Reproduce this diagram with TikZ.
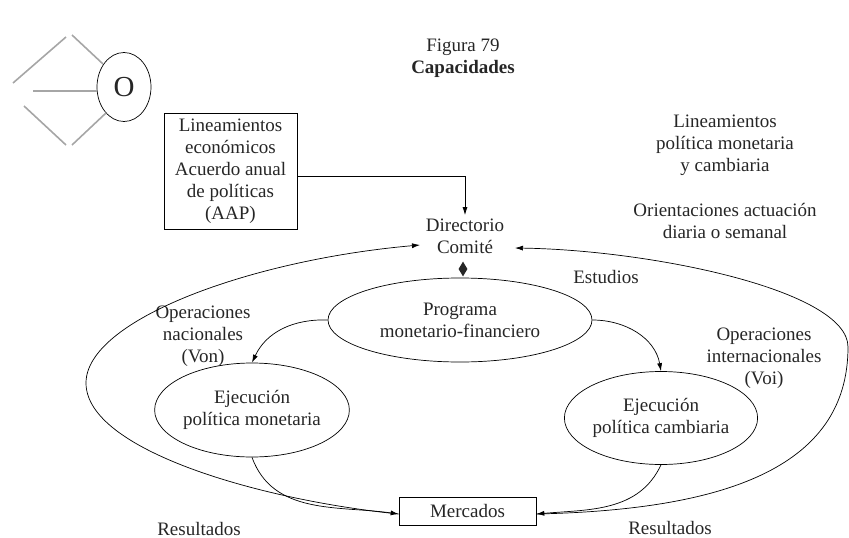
\documentclass[tikz,border=0pt]{standalone}
\usepackage{fontspec}
\setmainfont{Liberation Serif}
\usetikzlibrary{shapes.geometric,arrows.meta,calc}
\begin{document}
\begin{tikzpicture}[x=1pt,y=-1pt,
  every node/.style={font=\fontsize{19}{22}\selectfont, text=black!85},
  ell/.style={ellipse, draw, line width=0.7pt, inner sep=0pt, align=center},
  lbl/.style={align=center},
  arr/.style={line width=0.7pt, -{Latex[length=8pt,width=5pt]}},
  deco/.style={draw=black!35, line width=1.6pt}]
\useasboundingbox (0,0) rectangle (849,538);
% title
\node[lbl] (t1) at (463,47) {Figura 79};
\node[lbl, font=\fontsize{19}{22}\selectfont\bfseries] (t2) at (463,69) {Capacidades};
% decorative O
\node[ellipse, draw, line width=0.7pt, minimum width=54pt, minimum height=69pt, inner sep=0pt, font=\fontsize{29}{30}\selectfont] (o) at (124,87) {O};
\coordinate (g1a) at (13,83);  \coordinate (g1b) at (66,37);
\coordinate (g2a) at (72,35);  \coordinate (g2b) at (103,64);
\coordinate (g3a) at (33,91);
\coordinate (g4a) at (24,106); \coordinate (g4b) at (66,145);
\coordinate (g5a) at (72,145); \coordinate (g5b) at (106,113);
\draw[deco] (g1a) -- (g1b);
\draw[deco] (g2a) -- (g2b);
\draw[deco] (g3a) -- (g3a -| o.west);
\draw[deco] (g4a) -- (g4b);
\draw[deco] (g5a) -- (g5b);
% box
\node[draw, line width=0.7pt, minimum width=133pt, minimum height=116pt, align=center, inner sep=0pt] (box) at (230.5,171)
  {Lineamientos\\económicos\\Acuerdo anual\\de políticas\\(AAP)};
% Directorio
\node[lbl] (dir) at (465,236) {Directorio\\Comité};
\draw[arr] ($(box.east)+(0,5)$) -| (dir.north);
\node[diamond, fill=black!85, minimum width=9pt, minimum height=15pt, inner sep=0pt] (dia) at (463,269) {};
% right texts
\node[lbl] (lin) at (725,145) {Lineamientos\\política monetaria\\y cambiaria};
\node[lbl] (ori) at (725,221) {Orientaciones actuación\\diaria o semanal};
\node[lbl] (est) at (606,277) {Estudios};
\node[lbl] (voi) at (764,358) {Operaciones\\internacionales\\(Voi)};
\node[lbl] (von) at (203,336) {Operaciones\\nacionales\\(Von)};
\node[lbl] (res1) at (199,529) {Resultados};
\node[lbl] (res2) at (670,528) {Resultados};
% ellipses
\node[ell, minimum width=264pt, minimum height=84pt] (prog) at (460,320) {Programa\\monetario-financiero};
\node[ell, minimum width=190pt, minimum height=94pt] (mon) at (252,410) {Ejecución\\política monetaria};
\node[ell, minimum width=191pt, minimum height=93pt] (camb) at (661,418) {Ejecución\\política cambiaria};
% Mercados
\node[draw, line width=0.7pt, minimum width=137pt, minimum height=28pt, inner sep=0pt] (merc) at (467.5,511) {Mercados};
% connectors
\draw[arr] (prog.west) to[out=178, in=65] (mon.north);
\draw[arr] (prog.east) to[out=0, in=100] (camb.north);
\draw[arr] (mon.south) to[out=-70, in=172] ($(merc.west)+(0,3)$);
\draw[arr] (camb.south) to[out=-115, in=5] ($(merc.east)+(0,3)$);
\coordinate (dl) at (420,245);
\coordinate (dr) at (515,248);
\draw[arr] ($(merc.west)+(0,3)$) .. controls (260,500) and (86,450) .. (86,383)
   .. controls (86,320) and (250,260) .. (dl);
\draw[arr] ($(merc.east)+(0,3)$) .. controls (720,510) and (848,470) .. (848,347)
   .. controls (848,290) and (650,250) .. (dr);
\end{tikzpicture}
\end{document}
